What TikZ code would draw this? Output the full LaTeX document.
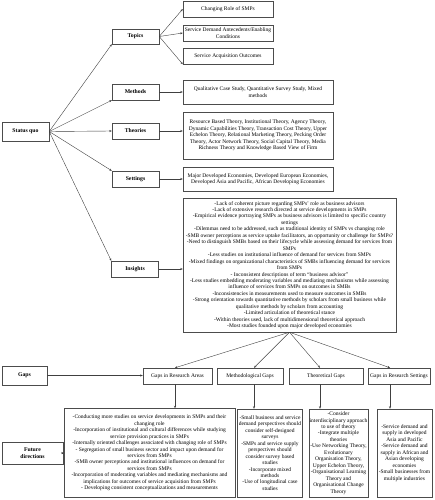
\documentclass[tikz,border=0pt]{standalone}
\usepackage{fontspec}
\setmainfont{Liberation Serif}
\usetikzlibrary{arrows.meta}

\tikzset{
    box/.style={draw=black!70, line width=0.9pt, align=center, inner sep=1pt,
        font=\fontsize{11}{12.9}\selectfont},
    headbox/.style={box, font=\fontsize{11.5}{14}\selectfont\bfseries,
        minimum width=94pt, minimum height=32pt},
    arr/.style={draw=black!75, line width=0.8pt, -{Stealth[length=5pt,width=4pt]}}
}

\begin{document}
\begin{tikzpicture}[x=2pt, y=-2pt]
            \useasboundingbox (0,0) rectangle (434,500);

            \node[headbox, minimum height=38pt] (statusquo) at (25.5,131.5) {Status quo};
            \node[headbox, minimum height=30pt] (topics) at (135.5,36.5) {Topics};
            \node[headbox] (methods) at (135.5,92) {Methods};
            \node[headbox] (theories) at (135.5,131) {Theories};
            \node[headbox] (settings) at (135.5,179) {Settings};
            \node[headbox] (insights) at (135,269) {Insights};

            \node[box, minimum width=180pt, minimum height=32pt] (topicrole) at (228,9) {Changing Role of SMPs};
            \node[box, minimum width=180pt, minimum height=32pt] (topicdemand) at (228,33) {Service Demand Antecedents/Enabling\\Conditions};
            \node[box, minimum width=180pt, minimum height=32pt] (topicoutcome) at (228,56) {Service Acquisition Outcomes};

            \node[box, minimum width=300pt, minimum height=48pt] (methodlist) at (258,92) {Qualitative Case Study, Quantitative Survey Study, Mixed\\methods};
            \node[box, minimum width=300pt, minimum height=94pt] (theorylist) at (258,135.5) {Resource Based Theory, Institutional Theory, Agency Theory,\\Dynamic Capabilities Theory, Transaction Cost Theory, Upper\\Echelon Theory, Relational Marketing Theory, Pecking Order\\Theory, Actor Network Theory, Social Capital Theory, Media\\Richness Theory and Knowledge Based View of Firm};
            \node[box, minimum width=300pt, minimum height=48pt] (settinglist) at (258,179) {Major Developed Economies, Developed European Economies,\\Developed Asia and Pacific, African Developing Economies};
            \node[box, minimum width=426pt, minimum height=268pt] (insightlist) at (289.5,265) {-Lack of coherent picture regarding SMPs' role as business advisors\\-Lack of extensive research directed at service developments in SMPs\\-Empirical evidence portraying SMPs as business advisors is limited to specific country\\settings\\-Dilemmas need to be addressed, such as traditional identity of SMPs vs changing role\\-SMB owner perceptions as service uptake facilitators, an opportunity or challenge for SMPs?\\-Need to distinguish SMBs based on their lifecycle while assessing demand for services from\\SMPs\\-Less studies on institutional influence of demand for services from SMPs\\-Mixed findings on organizational characteristics of SMBs influencing demand for services\\from SMPs\\- Inconsistent descriptions of term ``business advisor''\\-Less studies embedding moderating variables and mediating mechanisms while assessing\\influence of services from SMPs on outcomes in SMBs\\-Inconsistencies in measurements used to measure outcomes in SMBs\\-Strong orientation towards quantitative methods by scholars from small business while\\qualitative methods by scholars from accounting\\-Limited articulation of theoretical stance\\-Within theories used, lack of multidimensional theoretical approach\\-Most studies founded upon major developed economies};

            \node[headbox, minimum width=90pt, minimum height=38pt] (gaps) at (24.5,375.5) {Gaps};
            \node[box, minimum width=138pt, minimum height=32pt] (gaparea) at (177.5,376) {Gaps in Research Areas};
            \node[box, minimum width=132pt, minimum height=32pt] (gapmethod) at (250,376) {Methodological Gaps};
            \node[box, minimum width=148pt, minimum height=32pt] (gaptheory) at (326,376) {Theoretical Gaps};
            \node[box, minimum width=124pt, minimum height=32pt] (gapsetting) at (399,376) {Gaps in Research Settings};

            \node[headbox, minimum width=122pt, minimum height=44pt] (future) at (32.5,453) {Future\\directions};
            \node[box, minimum width=342pt, minimum height=178pt] (futurearea) at (149.5,453) {-Conducting more studies on service developments in SMPs and their\\changing role\\-Incorporation of institutional and cultural differences while studying\\service provision practices in SMPs\\-Internally oriented challenges associated with changing role of SMPs\\- Segregation of small business sector and impact upon demand for\\services from SMPs\\-SMB owner perceptions and institutional influences on demand for\\services from SMPs\\-Incorporation of moderating variables and mediating mechanisms and\\implications for outcomes of service acquisition from SMPs\\- Developing consistent conceptualizations and measurements};
            \node[box, minimum width=130pt, minimum height=176pt] (futuremethod) at (270,453) {-Small business and service\\demand perspectives should\\consider self-designed\\surveys\\-SMPs and service supply\\perspectives should\\consider survey based\\studies\\-Incorporate mixed\\methods\\-Use of longitudinal case\\studies};
            \node[box, minimum width=118pt, minimum height=176pt] (futuretheory) at (338.5,453) {-Consider\\interdisciplinary approach\\to use of theory\\-Integrate multiple\\theories\\-Use Networking Theory,\\Evolutionary\\Organisation Theory,\\Upper Echelon Theory,\\-Organisational Learning\\Theory and\\Organisational Change\\Theory};
            \node[box, minimum width=110pt, minimum height=176pt] (futuresetting) at (404.5,453) {-Service demand and\\supply in developed\\Asia and Pacific\\-Service demand and\\supply in African and\\Asian developing\\economies\\-Small businesses from\\multiple industries};

            \draw[arr] (statusquo.east) -- (topics.south west);
            \draw[arr] (statusquo.east) -- (methods.south west);
            \draw[arr] (statusquo.east) -- (theories.west);
            \draw[arr] (statusquo.east) -- (settings.north west);
            \draw[arr] (statusquo.east) -- (insights.north west);

            \draw[arr] (topics.east) -- (topicrole.west);
            \draw[arr] (topics.east) -- (topicdemand.west);
            \draw[arr] (topics.east) -- (topicoutcome.south west);
            \draw[arr] (methods.east) -- (methodlist.west);
            \draw[arr] (theories.east) -- (theories.east -| theorylist.west);
            \draw[arr] (settings.east) -- (settinglist.west);
            \draw[arr] (insights.east) -- (insights.east -| insightlist.west);

            \draw[arr] (insightlist.south) -- ([xshift=-5pt]gaparea.north);
            \draw[arr] (insightlist.south) -- ([xshift=8pt]gapmethod.north);
            \draw[arr] (insightlist.south) -- ([xshift=-12pt]gaptheory.north);
            \draw[arr] (insightlist.south) -- ([xshift=-18pt]gapsetting.north);
            \draw[arr] (gaps.east) -- (gaps.east -| gaparea.west);

            \draw[arr] ([xshift=-5pt]gaparea.south) -- ([xshift=-5pt]gaparea.south |- futurearea.north);
            \draw[arr] ([xshift=8pt]gapmethod.south) -- ([xshift=8pt]gapmethod.south |- futuremethod.north);
            \draw[arr] ([xshift=-12pt]gaptheory.south) -- ([xshift=-12pt]gaptheory.south |- futuretheory.north);
            \draw[arr] ([xshift=-18pt]gapsetting.south) -- ([xshift=-18pt]gapsetting.south |- futuresetting.north);
            \draw[arr] (future.east) -- (future.east -| futurearea.west);
        \end{tikzpicture}
\end{document}
